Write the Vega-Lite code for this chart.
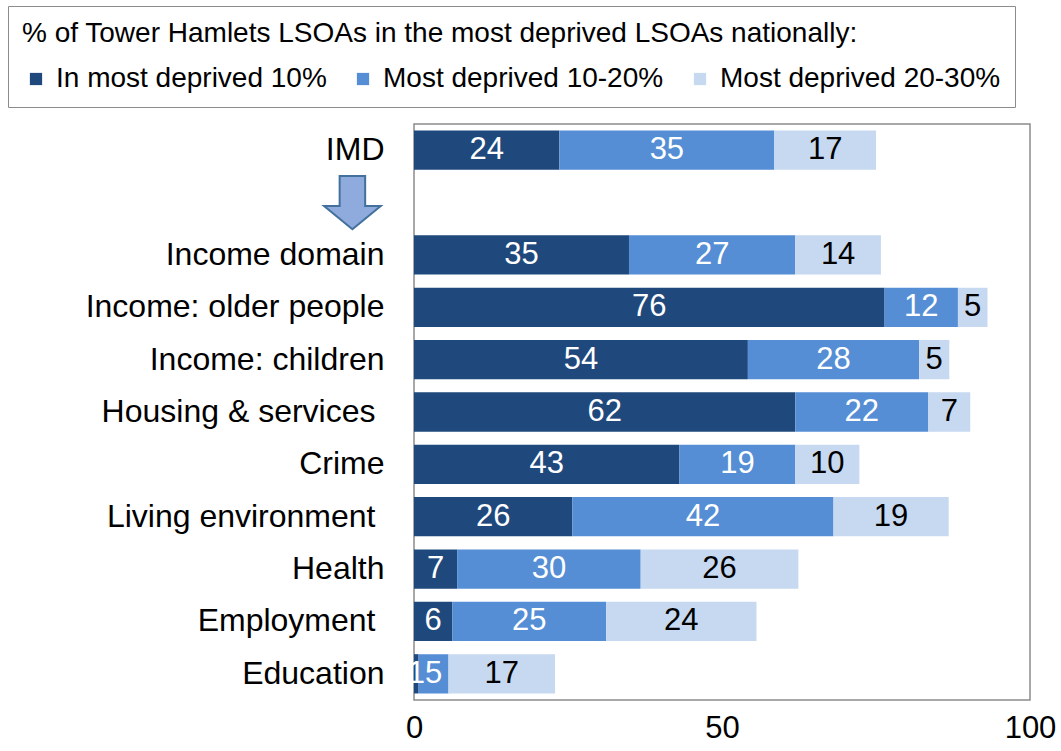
{
  "$schema": "https://vega.github.io/schema/vega-lite/v6.json",
  "width": 616,
  "height": 576,
  "autosize": {"type": "pad"},
  "padding": {"left": 7, "top": 5, "right": 0, "bottom": 0},
  "background": "white",
  "config": {
    "font": "Liberation Sans",
    "view": {"stroke": "#8c8c8c", "strokeWidth": 1.5}
  },
  "data": {
    "values": [
      {"category": "IMD", "band": "In most deprived 10%", "value": 23.6},
      {"category": "IMD", "band": "Most deprived 10-20%", "value": 34.9},
      {"category": "IMD", "band": "Most deprived 20-30%", "value": 16.5},
      {"category": "Income domain", "band": "In most deprived 10%", "value": 34.9},
      {"category": "Income domain", "band": "Most deprived 10-20%", "value": 27.0},
      {"category": "Income domain", "band": "Most deprived 20-30%", "value": 13.9},
      {"category": "Income: older people", "band": "In most deprived 10%", "value": 76.4},
      {"category": "Income: older people", "band": "Most deprived 10-20%", "value": 11.9},
      {"category": "Income: older people", "band": "Most deprived 20-30%", "value": 4.8},
      {"category": "Income: children", "band": "In most deprived 10%", "value": 54.2},
      {"category": "Income: children", "band": "Most deprived 10-20%", "value": 27.8},
      {"category": "Income: children", "band": "Most deprived 20-30%", "value": 4.9},
      {"category": "Housing & services", "band": "In most deprived 10%", "value": 61.9},
      {"category": "Housing & services", "band": "Most deprived 10-20%", "value": 21.6},
      {"category": "Housing & services", "band": "Most deprived 20-30%", "value": 6.8},
      {"category": "Crime", "band": "In most deprived 10%", "value": 43.1},
      {"category": "Crime", "band": "Most deprived 10-20%", "value": 18.8},
      {"category": "Crime", "band": "Most deprived 20-30%", "value": 10.4},
      {"category": "Living environment", "band": "In most deprived 10%", "value": 25.7},
      {"category": "Living environment", "band": "Most deprived 10-20%", "value": 42.4},
      {"category": "Living environment", "band": "Most deprived 20-30%", "value": 18.7},
      {"category": "Health", "band": "In most deprived 10%", "value": 7.0},
      {"category": "Health", "band": "Most deprived 10-20%", "value": 29.8},
      {"category": "Health", "band": "Most deprived 20-30%", "value": 25.6},
      {"category": "Employment", "band": "In most deprived 10%", "value": 6.2},
      {"category": "Employment", "band": "Most deprived 10-20%", "value": 25.0},
      {"category": "Employment", "band": "Most deprived 20-30%", "value": 24.4},
      {"category": "Education", "band": "In most deprived 10%", "value": 0.75},
      {"category": "Education", "band": "Most deprived 10-20%", "value": 4.85},
      {"category": "Education", "band": "Most deprived 20-30%", "value": 17.3}
    ]
  },
  "layer": [
    {
      "transform": [
        {"stack": "value", "groupby": ["category"], "sort": [{"field": "band", "order": "ascending"}], "as": ["x0", "x1"]}
      ],
      "mark": {"type": "bar"},
      "encoding": {
        "y": {
          "field": "category",
          "type": "nominal",
          "scale": {
            "domain": ["IMD", "arrow", "Income domain", "Income: older people", "Income: children", "Housing & services", "Crime", "Living environment", "Health", "Employment", "Education"],
            "paddingInner": 0.25,
            "paddingOuter": 0.125
          },
          "axis": {
            "title": null,
            "labelFontSize": 32,
            "labelColor": "black",
            "ticks": false,
            "domain": false,
            "labelPadding": {
              "condition": {"test": "indexof(['Housing & services', 'Living environment', 'Employment'], datum.value) >= 0", "value": 39},
              "value": 30
            },
            "labelLimit": 600,
            "labelExpr": "datum.value === 'arrow' ? '' : datum.value"
          }
        },
        "x": {
          "field": "x0",
          "type": "quantitative",
          "scale": {"domain": [0, 100], "nice": false},
          "axis": {
            "title": null,
            "values": [0, 50, 100],
            "labelFontSize": 31,
            "labelColor": "black",
            "ticks": false,
            "domain": false,
            "grid": false,
            "labelPadding": 13,
            "labelFlush": false
          }
        },
        "x2": {"field": "x1"},
        "color": {
          "field": "band",
          "type": "nominal",
          "scale": {
            "domain": ["In most deprived 10%", "Most deprived 10-20%", "Most deprived 20-30%"],
            "range": ["#1F497D", "#558ED5", "#C6D9F1"]
          },
          "legend": {
            "orient": "none",
            "legendX": -406,
            "legendY": -118,
            "direction": "horizontal",
            "columns": 3,
            "title": "% of Tower Hamlets LSOAs in the most deprived LSOAs nationally:",
            "titleFontSize": 28,
            "titleFontWeight": "normal",
            "titleColor": "black",
            "titleLimit": 1100,
            "titlePadding": 17,
            "labelFontSize": 28,
            "labelColor": "black",
            "labelLimit": 600,
            "symbolType": "square",
            "symbolSize": 150,
            "symbolStrokeWidth": 0,
            "labelOffset": 6,
            "columnPadding": 22,
            "padding": 14,
            "strokeColor": "#8c8c8c",
            "fillColor": "white"
          }
        }
      }
    },
    {
      "transform": [
        {"stack": "value", "groupby": ["category"], "sort": [{"field": "band", "order": "ascending"}], "as": ["x0", "x1"]},
        {"calculate": "(datum.x0 + datum.x1) / 2", "as": "mid"}
      ],
      "mark": {"type": "text", "fontSize": 31, "baseline": "middle", "align": "center"},
      "encoding": {
        "y": {"field": "category", "type": "nominal"},
        "x": {"field": "mid", "type": "quantitative"},
        "text": {"field": "value", "type": "quantitative", "format": ".0f"},
        "color": {
          "condition": {"test": "datum.band === 'Most deprived 20-30%'", "value": "black"},
          "value": "white"
        }
      }
    },
    {
      "data": {"values": [{"category": "arrow"}]},
      "mark": {
        "type": "point",
        "shape": "M-0.45,-0.94L0.45,-0.94L0.45,0.12L1,0.12L0,0.94L-1,0.12L-0.45,0.12Z",
        "size": 3215,
        "filled": true,
        "fill": "#8FAADC",
        "stroke": "#41719C",
        "strokeWidth": 2,
        "opacity": 1
      },
      "encoding": {
        "x": {"datum": -10},
        "y": {"field": "category", "type": "nominal"}
      }
    }
  ]
}
